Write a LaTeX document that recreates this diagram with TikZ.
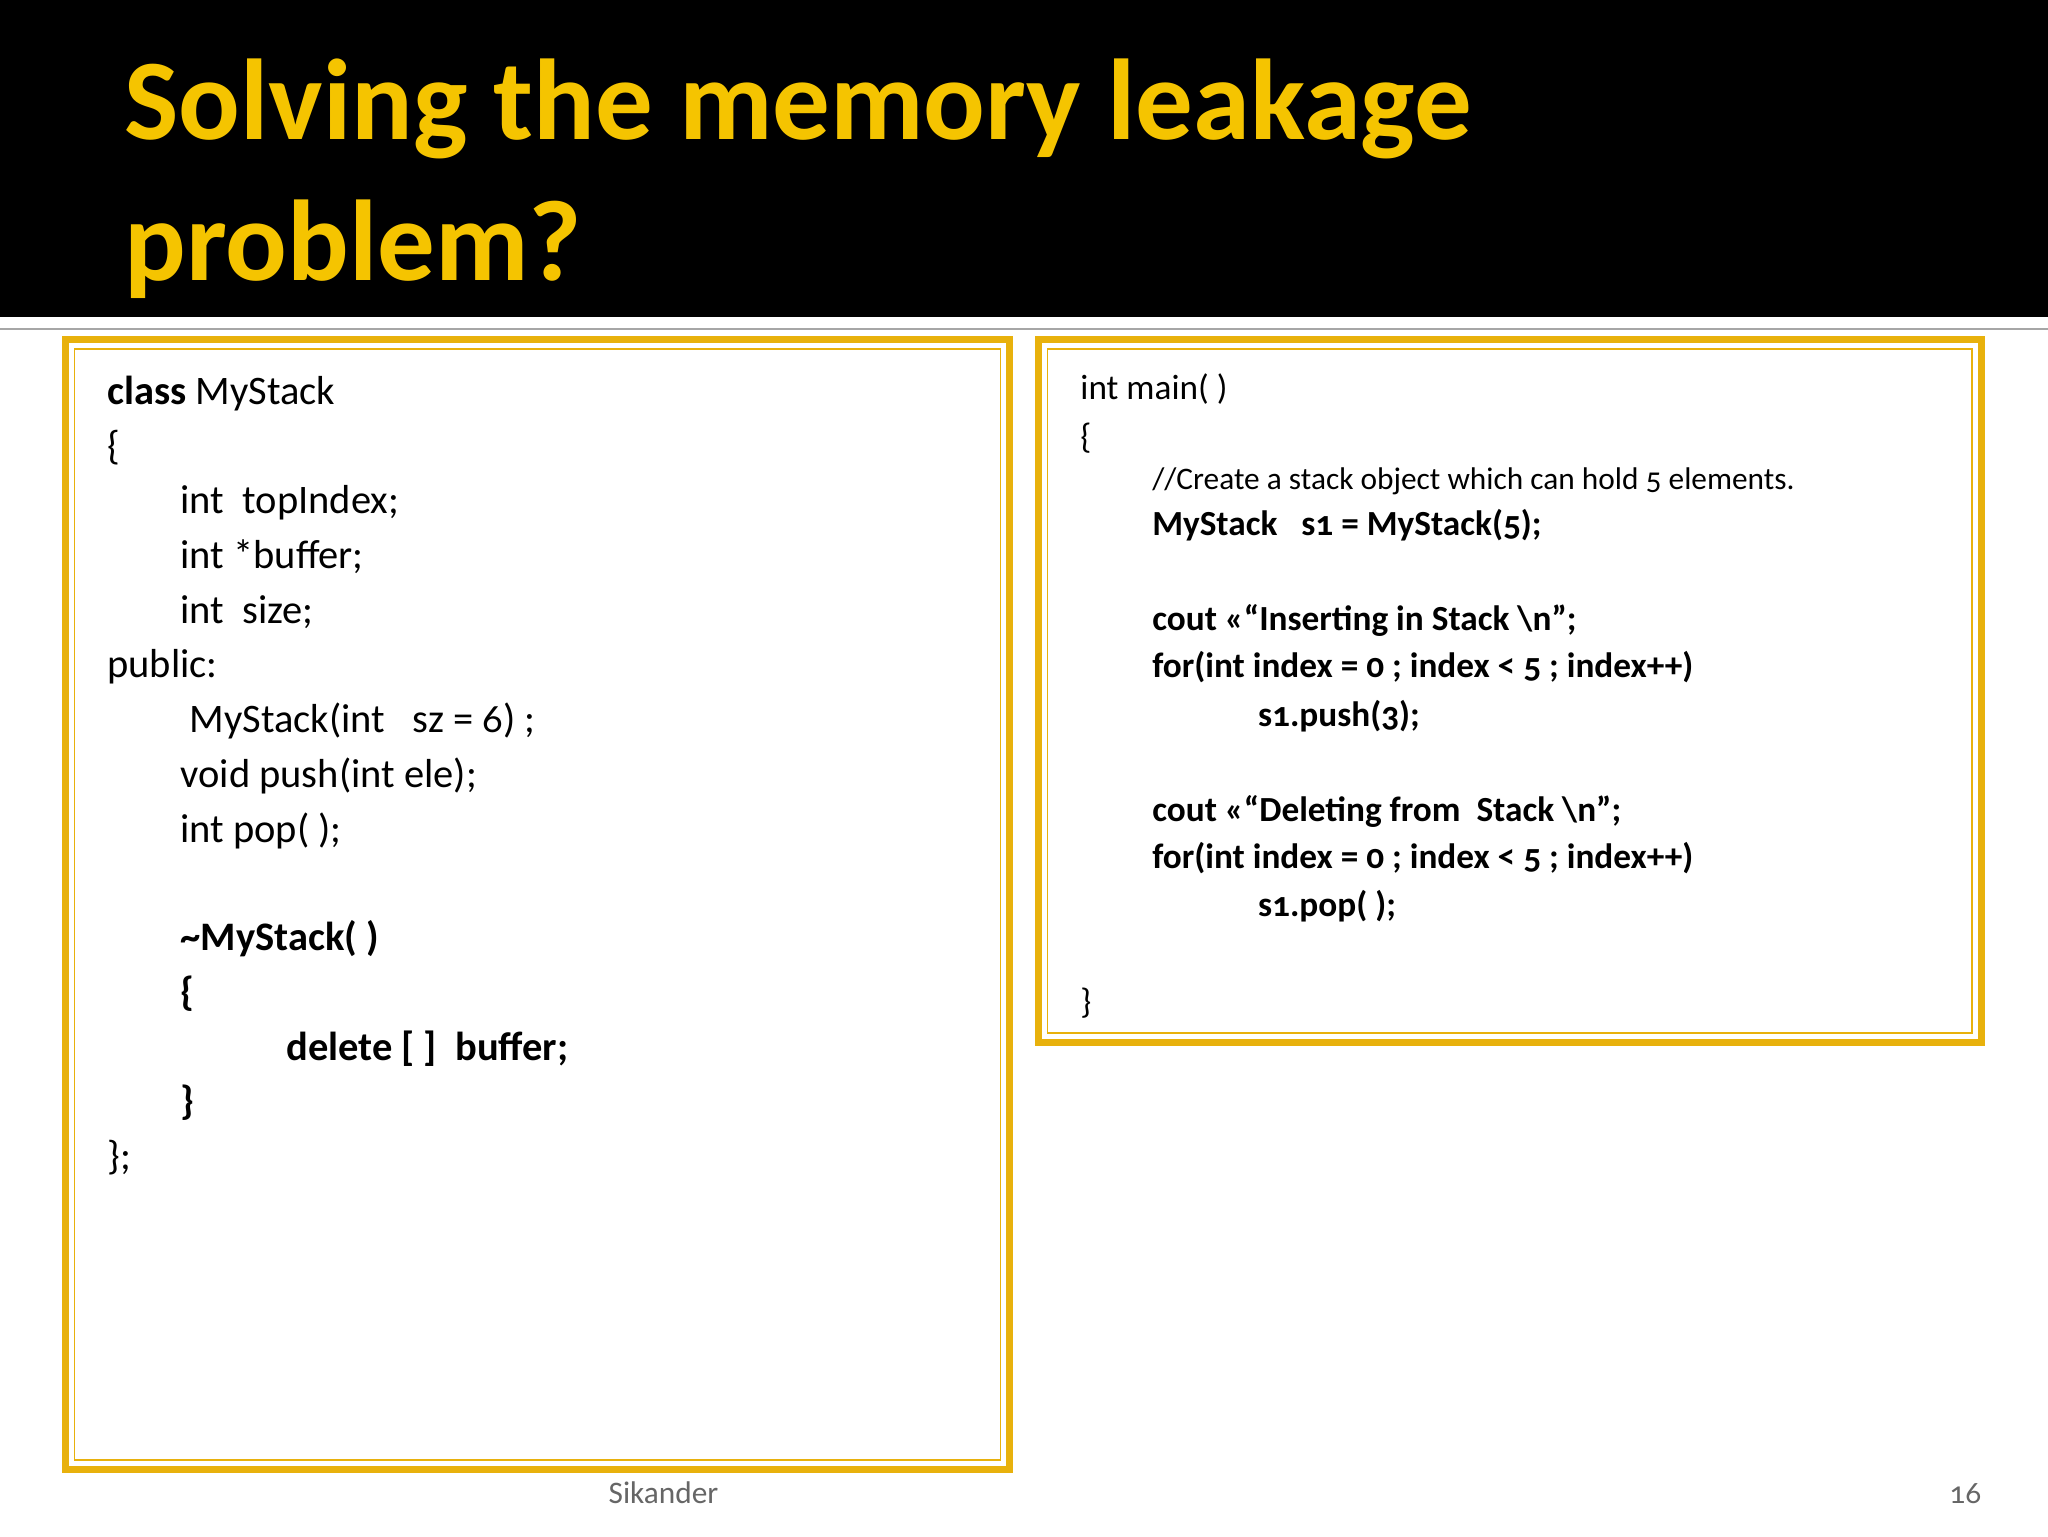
\documentclass[tikz,border=0pt]{standalone}
\usepackage{fontspec}
\setmainfont[Numbers=OldStyle]{Carlito}
\definecolor{gold}{HTML}{E8B10C}
\definecolor{titlegold}{HTML}{F5C400}
\begin{document}
\begin{tikzpicture}[x=1pt,y=-1pt,
  L/.style={anchor=base west,inner sep=0pt,font=\fontsize{31}{36}\selectfont},
  R/.style={anchor=base west,inner sep=0pt,font=\fontsize{27}{32}\selectfont},
  T/.style={anchor=base west,inner sep=0pt,text=titlegold,font=\fontsize{88}{100}\selectfont\bfseries},
  outerbox/.style={draw=gold,line width=5pt},
  innerbox/.style={draw=gold,line width=1.2pt}]
\useasboundingbox (0,0) rectangle (1568,1176);
\fill[black] (0,0) rectangle (1568,243);
\draw[gray!70,line width=2pt] (0,252) -- (1568,252);
\node[T] (t1) at (95,107) {Solving the memory leakage};
\node[T] (t2) at (95,215) {problem?};
% boxes
\draw[outerbox] (50,260) rectangle (773,1125);
\draw[innerbox] (57,267) rectangle (766,1118);
\draw[outerbox] (795,260) rectangle (1517,798);
\draw[innerbox] (802,267) rectangle (1510,791);
% left code
\node[L] (l1) at (82,310) {\textbf{class} MyStack};
\node[L] (l2) at (82,352) {\{};
\node[L] (l3) at (138,393) {int\ \ topIndex;};
\node[L] (l4) at (138,435) {int *buffer;};
\node[L] (l5) at (138,477) {int\ \ size;};
\node[L] (l6) at (82,519) {public:};
\node[L] (l7) at (145,561) {MyStack(int\ \ \ sz = 6) ;};
\node[L] (l8) at (138,603) {void push(int ele);};
\node[L] (l9) at (138,645) {int pop( );};
\node[L] (l10) at (138,728) {\textbf{\char`~MyStack( )}};
\node[L] (l11) at (138,770) {\textbf{\{}};
\node[L] (l12) at (219,812) {\textbf{delete [ ]\ \ buffer;}};
\node[L] (l13) at (138,853) {\textbf{\}}};
\node[L] (l14) at (82,895) {\};};
% right code
\node[R] (r1) at (827,306) {int main( )};
\node[R] (r2) at (827,343) {\{};
\node[R,font=\fontsize{24}{28}\selectfont] (r3) at (882,375) {//Create a stack object which can hold 5 elements.};
\node[R] (r4) at (882,410) {\textbf{MyStack\ \ \ s1 = MyStack(5);}};
\node[R] (r5) at (882,483) {\textbf{cout <<“Inserting in Stack \textbackslash n”;}};
\node[R] (r6) at (882,519) {\textbf{for(int index = 0 ; index < 5 ; index++)}};
\node[R] (r7) at (963,556) {\textbf{s1.push(3);}};
\node[R] (r8) at (882,629) {\textbf{cout <<“Deleting from\ \ Stack \textbackslash n”;}};
\node[R] (r9) at (882,665) {\textbf{for(int index = 0 ; index < 5 ; index++)}};
\node[R] (r10) at (963,702) {\textbf{s1.pop( );}};
\node[R] (r11) at (827,776) {\}};
% footer
\node[anchor=base,inner sep=0pt,text=gray!80!black,font=\fontsize{24}{28}\selectfont] (f1) at (508,1151) {Sikander};
\node[anchor=base east,inner sep=0pt,text=gray!80!black,font=\fontsize{24}{28}\selectfont] (f2) at (1517,1151) {16};
\end{tikzpicture}
\end{document}
